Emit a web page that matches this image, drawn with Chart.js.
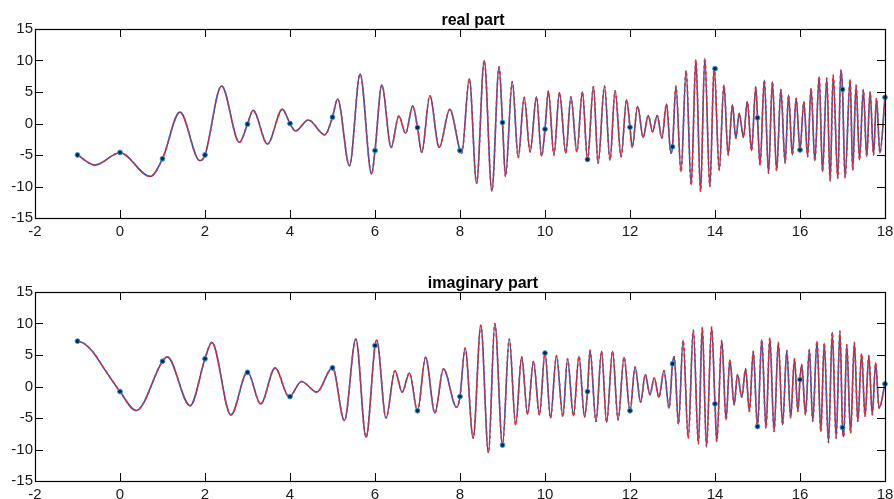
<!DOCTYPE html>
<html lang="en">
<head>
<meta charset="UTF-8">
<title>real / imaginary part</title>
<script src="https://cdn.jsdelivr.net/npm/chart.js"></script>
<style>
    body { margin: 0; background: #fff; }
    .figure { position: relative; width: 894px; height: 499px; }
    .panel { position: absolute; left: 0; width: 894px; height: 236px; }
    #realPanel { top: 0; }
    #imagPanel { top: 263px; }
</style>
</head>
<body>
<div class="figure">
    <div class="panel" id="realPanel"><canvas id="realChart" width="894" height="236"></canvas></div>
    <div class="panel" id="imagPanel"><canvas id="imagChart" width="894" height="236"></canvas></div>
</div>
<script>
// axis ticks
const xTicks = [-2, 0, 2, 4, 6, 8, 10, 12, 14, 16, 18];
const yTicks = [-15, -10, -5, 0, 5, 10, 15];

// sample points (dots)
const sampleX = [-1, 0, 1, 2, 3, 4, 5, 6, 7, 8, 9, 10, 11, 12, 13, 14, 15, 16, 17, 18];
const realSamples = [-5.0, -4.6, -5.6, -5.0, -0.1, 0.0, 1.0, -4.3, -0.65, -4.3, 0.15, -0.9, -5.7, -0.6, -3.7, 8.7, 0.9, -4.2, 5.4, 4.15];
const imagSamples = [7.2, -0.8, 4.0, 4.4, 2.25, -1.6, 2.95, 6.5, -3.85, -1.6, -9.3, 5.3, -0.8, -3.85, 3.6, -2.75, -6.35, 1.1, -6.5, 0.4];

// continuous curve (turning points + sample crossings)
const realX = [-1, -0.59, 0, 0.71, 1, 1.41, 1.88, 2, 2.39, 2.81, 3, 3.13, 3.47, 3.82, 4, 4.13, 4.43, 4.82, 5, 5.12,
    5.4, 5.65, 5.92, 6, 6.16, 6.38, 6.56, 6.72, 6.89, 7, 7.1, 7.29, 7.51, 7.76, 8, 8.04, 8.22, 8.39, 8.57, 8.75,
    8.92, 9, 9.07, 9.23, 9.37, 9.51, 9.65, 9.8, 9.92, 10, 10.08, 10.21, 10.34, 10.49, 10.61, 10.75, 10.88, 11, 11.14, 11.25,
    11.4, 11.53, 11.65, 11.79, 11.92, 12, 12.05, 12.18, 12.31, 12.43, 12.53, 12.64, 12.75, 12.86, 12.96, 13, 13.08, 13.2, 13.32, 13.44,
    13.55, 13.66, 13.76, 13.88, 13.98, 14.1, 14.21, 14.31, 14.41, 14.49, 14.57, 14.67, 14.76, 14.86, 14.96, 15, 15.06, 15.16, 15.26, 15.35,
    15.45, 15.55, 15.65, 15.73, 15.82, 15.91, 16, 16.09, 16.18, 16.26, 16.35, 16.45, 16.53, 16.63, 16.71, 16.78, 16.89, 16.96, 17, 17.06,
    17.18, 17.24, 17.32, 17.4, 17.49, 17.57, 17.65, 17.73, 17.8, 17.88, 18];
const realY = [-5.0, -6.6, -4.65, -8.4, -5.6, 1.8, -5.9, -5.0, 5.95, -3.0, -0.1, 2.1, -3.25, 2.25, 0.0, -1.2, 0.55, -1.8, 1.0, 3.9,
    -6.7, 7.85, -8.0, -4.3, 6.1, -3.8, 1.2, -1.55, 2.8, -0.65, -4.6, 4.4, -3.8, 2.25, -4.3, -4.7, 7.1, -9.5, 10.0, -10.7,
    9.0, 0.15, -8.4, 6.65, -5.4, 4.15, -4.5, 4.25, -5.15, -0.9, 5.15, -5.0, 4.9, -4.7, 4.25, -4.5, 5.05, -5.8, 5.85, -6.3,
    5.95, -5.8, 5.2, -5.25, 3.75, -0.6, -3.8, 2.7, -2.2, 1.25, -1.3, 1.25, -2.35, 3.1, -4.7, -3.75, 5.95, -7.65, 8.4, -9.75,
    10.1, -10.8, 10.35, -10.0, 9.0, -7.4, 6.1, -5.0, 2.95, -2.35, 1.6, -2.2, 3.5, -4.3, 5.85, 0.9, -6.6, 6.9, -7.9, 6.65,
    -7.5, 5.4, -6.3, 4.5, -5.0, 4.0, -4.2, 3.45, -5.25, 5.6, -5.95, 7.45, -7.65, 7.2, -9.1, 7.7, -8.7, 8.5, 5.4, -8.6,
    7.0, -7.4, 6.1, -5.8, 5.4, -5.25, 5.05, -5.0, 4.0, -4.7, 4.15];

const imagX = [-1, -0.85, -0.65, -0.35, 0, 0.38, 1, 1.11, 1.65, 2, 2.16, 2.61, 3, 3.31, 3.65, 3.98, 4.27, 4.63, 5, 5.28, 5.55, 5.79, 6,
    6.04, 6.26, 6.47, 6.64, 6.81, 7, 7.19, 7.41, 7.61, 7.92, 8, 8.12, 8.31, 8.49, 8.67, 8.82, 9, 9.16, 9.31, 9.45,
    9.59, 9.73, 9.87, 10, 10.13, 10.27, 10.42, 10.53, 10.67, 10.8, 10.93, 11, 11.06, 11.2, 11.33, 11.45, 11.59, 11.72, 11.86, 12,
    12.12, 12.25, 12.36, 12.47, 12.57, 12.68, 12.8, 12.92, 13, 13.04, 13.14, 13.25, 13.37, 13.49, 13.61, 13.7, 13.8, 13.92, 14, 14.04,
    14.16, 14.26, 14.35, 14.45, 14.53, 14.63, 14.72, 14.81, 14.9, 15, 15.1, 15.2, 15.29, 15.39, 15.49, 15.59, 15.69, 15.78, 15.87, 15.95,
    16, 16.04, 16.13, 16.22, 16.3, 16.4, 16.49, 16.57, 16.67, 16.76, 16.85, 16.94, 17, 17.03, 17.1, 17.19, 17.28, 17.36, 17.45, 17.53,
    17.62, 17.7, 17.78, 17.86, 18];
const imagY = [7.2, 6.85, 5.6, 2.6, -0.8, -3.8, 4.0, 4.7, -3.05, 4.4, 7.0, -4.5, 2.3, -2.75, 2.95, -1.65, 0.8, -0.9, 3.0, -5.4, 7.55, -8.05, 6.5,
    7.35, -5.0, 2.5, -0.9, 2.15, -3.9, 4.65, -4.2, 2.8, -3.3, -1.6, 6.1, -8.2, 9.7, -10.5, 10.0, -9.3, 7.55, -6.1, 4.7,
    -4.4, 4.0, -4.5, 5.35, -5.0, 4.9, -4.75, 4.4, -4.65, 4.8, -4.85, -0.8, 5.75, -5.55, 5.6, -5.7, 5.6, -5.3, 4.65, -3.9,
    3.1, -2.5, 1.9, -1.3, 1.35, -1.7, 2.55, -3.45, 3.6, 4.75, -6.0, 7.35, -8.2, 8.95, -9.1, 9.4, -9.55, 9.45, -2.75, -8.75,
    7.35, -5.3, 4.25, -2.9, 1.9, -1.7, 2.8, -3.95, 5.6, -6.5, 7.45, -6.6, 7.7, -7.15, 7.0, -6.1, 5.7, -5.0, 4.4, -3.95,
    1.1, 3.5, -4.5, 5.85, -5.55, 7.2, -7.15, 6.9, -8.9, 8.6, -8.2, 8.8, -6.5, -7.95, 6.65, -7.4, 7.0, -5.55, 5.2, -4.75,
    4.9, -4.5, 3.75, -3.45, 0.4];

const realTitle = 'real part';
const imagTitle = 'imaginary part';

const FONT = '"Liberation Sans", Arial, Helvetica, sans-serif';

function zip(xs, ys) {
    return xs.map((x, i) => ({x: x, y: ys[i]}));
}

// matlab style box: frame plus inward ticks on all four sides, and the title
const boxPlugin = {
    id: 'matlabBox',
    afterDraw(chart, args, opts) {
        const ctx = chart.ctx;
        const a = chart.chartArea;
        const sx = chart.scales.x, sy = chart.scales.y;
        const len = 8;
        ctx.save();
        ctx.strokeStyle = '#000';
        ctx.lineWidth = 1;
        ctx.beginPath();
        xTicks.forEach(v => {
            const px = Math.round(sx.getPixelForValue(v)) + 0.5;
            ctx.moveTo(px, a.bottom); ctx.lineTo(px, a.bottom - len);
            ctx.moveTo(px, a.top); ctx.lineTo(px, a.top + len);
        });
        yTicks.forEach(v => {
            const py = Math.round(sy.getPixelForValue(v)) + 0.5;
            ctx.moveTo(a.left, py); ctx.lineTo(a.left + len, py);
            ctx.moveTo(a.right, py); ctx.lineTo(a.right - len, py);
        });
        ctx.stroke();
        ctx.lineWidth = 1.2;
        ctx.strokeRect(Math.round(a.left) + 0.5, Math.round(a.top) + 0.5,
            Math.round(a.right - a.left), Math.round(a.bottom - a.top));

        ctx.fillStyle = '#000';
        ctx.font = 'bold 16px ' + FONT;
        ctx.textAlign = 'center';
        ctx.textBaseline = 'alphabetic';
        ctx.fillText(opts.text, opts.x, a.top - 4);
        ctx.restore();
    }
};

function makePanel(canvasId, curveX, curveY, samples, title, titleX) {
    return new Chart(document.getElementById(canvasId), {
        type: 'scatter',
        data: {
            datasets: [
                {
                    data: zip(sampleX, samples),
                    showLine: false,
                    pointRadius: 2.4,
                    pointBackgroundColor: '#0a2a48',
                    pointBorderColor: '#3f8fd0',
                    pointBorderWidth: 1,
                    clip: 6
                },
                {
                    data: zip(curveX, curveY),
                    showLine: true,
                    borderColor: '#e8322b',
                    borderWidth: 1.6,
                    borderDash: [3, 3],
                    pointRadius: 0,
                    cubicInterpolationMode: 'monotone'
                },
                {
                    data: zip(curveX, curveY),
                    showLine: true,
                    borderColor: '#3551ad',
                    borderWidth: 1.6,
                    pointRadius: 0,
                    cubicInterpolationMode: 'monotone'
                }
            ]
        },
        options: {
            responsive: false,
            animation: false,
            events: [],
            layout: {padding: {top: 29, right: 9, left: 0, bottom: 0}},
            plugins: {
                legend: {display: false},
                tooltip: {enabled: false},
                matlabBox: {text: title, x: titleX}
            },
            scales: {
                x: {
                    type: 'linear',
                    min: -2, max: 18,
                    afterBuildTicks: s => { s.ticks = xTicks.map(v => ({value: v})); },
                    afterFit: s => { s.height = 18; s.paddingLeft = 0; s.paddingRight = 0; },
                    grid: {display: false, drawTicks: false},
                    border: {display: false},
                    ticks: {padding: 5, color: '#1a1a1a', font: {family: FONT, size: 15}, maxRotation: 0}
                },
                y: {
                    type: 'linear',
                    min: -15, max: 15,
                    afterBuildTicks: s => { s.ticks = yTicks.map(v => ({value: v})); },
                    afterFit: s => { s.width = 35; },
                    grid: {display: false, drawTicks: false},
                    border: {display: false},
                    ticks: {padding: 2, color: '#1a1a1a', font: {family: FONT, size: 15}}
                }
            }
        },
        plugins: [boxPlugin]
    });
}

makePanel('realChart', realX, realY, realSamples, realTitle, 473);
makePanel('imagChart', imagX, imagY, imagSamples, imagTitle, 483);
</script>
</body>
</html>
